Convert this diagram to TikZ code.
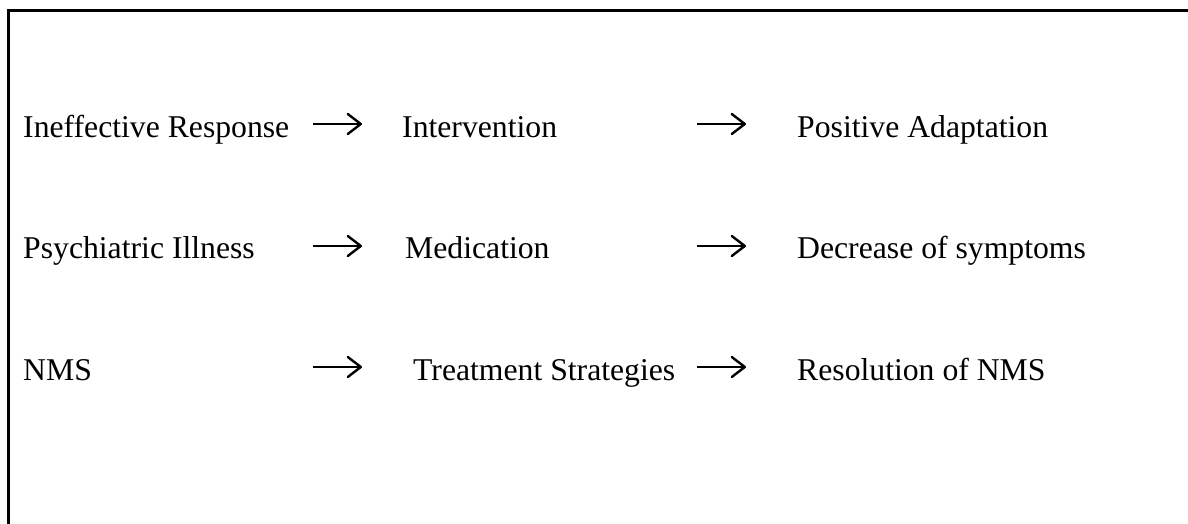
\documentclass[tikz,border=0pt]{standalone}
\usepackage{fontspec}
\setmainfont{Liberation Serif}
\usetikzlibrary{arrows.meta}
\tikzset{
  lbl/.style={anchor=base west, inner sep=0pt, font=\fontsize{31.7pt}{36pt}\selectfont},
  flow/.style={line width=2.4pt, -{Straight Barb[length=13pt,width=20pt,line width=2.4pt,round]}},
  frame/.style={line width=2.8pt}
}
\begin{document}
\begin{tikzpicture}[x=1pt,y=-1pt]
\useasboundingbox (0,0) rectangle (1188,524);
\clip (0,0) rectangle (1188,524);
\draw[frame] (8.7,10.7) rectangle (1250,600);
% row 1
\node[lbl] (a1) at (23,137) {Ineffective Response};
\node[lbl] (b1) at (402,137) {Intervention};
\node[lbl] (c1) at (797,137) {Positive Adaptation};
% row 2
\node[lbl] (a2) at (23,258) {Psychiatric Illness};
\node[lbl] (b2) at (405,258) {Medication};
\node[lbl] (c2) at (797,258) {Decrease of symptoms};
% row 3
\node[lbl] (a3) at (23,380) {NMS};
\node[lbl] (b3) at (413,380) {Treatment Strategies};
\node[lbl] (c3) at (797,380) {Resolution of NMS};
% arrow end points
\coordinate (s11) at (313,124); \coordinate (e11) at (362,124);
\coordinate (s12) at (697,124); \coordinate (e12) at (746,124);
\coordinate (s21) at (313,246); \coordinate (e21) at (362,246);
\coordinate (s22) at (697,246); \coordinate (e22) at (746,246);
\coordinate (s31) at (313,367); \coordinate (e31) at (362,367);
\coordinate (s32) at (697,367); \coordinate (e32) at (746,367);
\draw[flow] (s11) -- (e11);
\draw[flow] (s12) -- (e12);
\draw[flow] (s21) -- (e21);
\draw[flow] (s22) -- (e22);
\draw[flow] (s31) -- (e31);
\draw[flow] (s32) -- (e32);
\end{tikzpicture}
\end{document}
